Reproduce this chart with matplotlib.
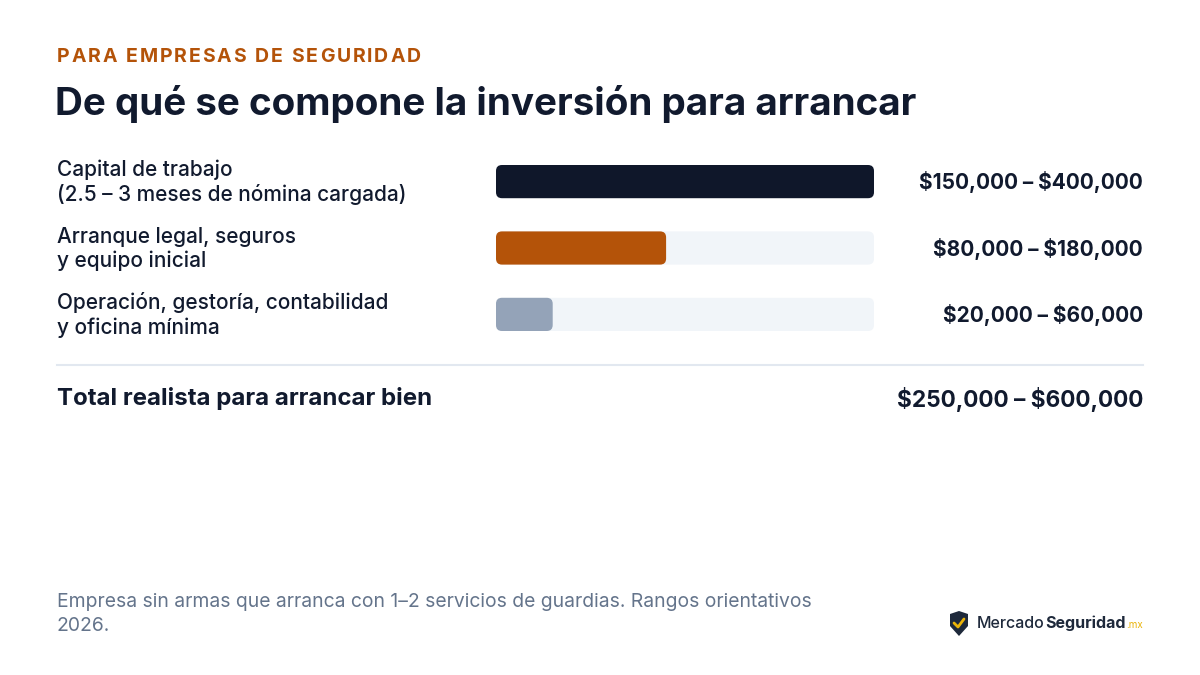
import matplotlib.pyplot as plt
from matplotlib.patches import FancyBboxPatch, Polygon

# data
labels = ["Capital de trabajo\n(2.5 – 3 meses de nómina cargada)",
          "Arranque legal, seguros\ny equipo inicial",
          "Operación, gestoría, contabilidad\ny oficina mínima"]
low = [150000, 80000, 20000]
high = [400000, 180000, 60000]
range_text = ["$150,000 – $400,000", "$80,000 – $180,000", "$20,000 – $60,000"]
bar_colors = ["#0f172a", "#b45309", "#94a3b8"]
total_text = "$250,000 – $600,000"
scale_max = 400000

navy = "#111a2e"
plt.rcParams['font.family'] = ['Inter', 'DejaVu Sans']

W, H = 1200, 675
fig = plt.figure(figsize=(12, 6.75), dpi=100)
fig.patch.set_facecolor("white")
renderer = fig.canvas.get_renderer()

def fx(px):
    return px / W

def fy(py):
    return 1 - py / H

# header, letter-spaced by hand
x = 57
for ch in "PARA EMPRESAS DE SEGURIDAD":
    t = fig.text(fx(x), fy(57), ch, color="#b45309", fontsize=14,
                 fontweight="bold", va="center", ha="left")
    w = t.get_window_extent(renderer=renderer).width
    if ch == " ":
        w = 5
    x += w + 1.9
fig.text(fx(55), fy(104), "De qué se compone la inversión para arrancar", color=navy,
         fontsize=27.8, fontweight="bold", va="center", ha="left")

# bar area
ax = fig.add_axes([fx(496), fy(331), fx(874) - fx(496), (331 - 165) / H])
ax.set_xlim(0, scale_max)
ax.set_ylim(len(labels) - 0.75, -0.25)
ax.axis("off")

# px -> data units for rounded corners
xu = scale_max / (874 - 496)
yu = (len(labels) - 0.5) / (331 - 165)
r = 6 * xu
aspect = yu / xu
bh = 0.5
for i in range(len(labels)):
    track = FancyBboxPatch((0, i - bh / 2), scale_max, bh,
                           boxstyle=f"round,pad=0,rounding_size={r}",
                           mutation_aspect=aspect, fc="#f1f5f9", ec="none")
    ax.add_patch(track)
    bar = FancyBboxPatch((0, i - bh / 2), high[i], bh,
                         boxstyle=f"round,pad=0,rounding_size={r}",
                         mutation_aspect=aspect, fc=bar_colors[i], ec="none")
    ax.add_patch(bar)

row_y = [182, 249, 315]
for i in range(len(labels)):
    fig.text(fx(57), fy(row_y[i]), labels[i], color=navy, fontsize=15,
             fontweight="medium", va="center", ha="left", linespacing=1.25)
    fig.text(fx(1143), fy(row_y[i]), range_text[i], color=navy, fontsize=15,
             fontweight="bold", va="center", ha="right", parse_math=False)

# separator + total
fig.add_artist(plt.Line2D([fx(57), fx(1143)], [fy(365), fy(365)], color="#e2e8f0", lw=1.5))
fig.text(fx(57), fy(399), "Total realista para arrancar bien", color=navy,
         fontsize=17.3, fontweight="bold", va="center", ha="left")
fig.text(fx(1143), fy(399), total_text, color=navy,
         fontsize=16.3, fontweight="bold", va="center", ha="right", parse_math=False)

# footer
fig.text(fx(57), fy(614), "Empresa sin armas que arranca con 1–2 servicios de guardias. Rangos orientativos\n2026.",
         color="#64748b", fontsize=13.9, va="center", ha="left", linespacing=1.45)

# logo
shield = Polygon([(fx(950), fy(614)), (fx(959), fy(611)), (fx(968), fy(614)),
                  (fx(968), fy(626)), (fx(959), fy(636)), (fx(950), fy(626))],
                 closed=True, fc="#1e293b", ec="none", transform=fig.transFigure)
fig.add_artist(shield)
fig.add_artist(plt.Line2D([fx(954), fx(958), fx(964)], [fy(623), fy(627), fy(619)],
                          color="#eab308", lw=2, solid_capstyle="round"))
t1 = fig.text(fx(977), fy(623), "Mercado", color="#1e293b", fontsize=11.5,
              fontweight="medium", va="center", ha="left")
bb = t1.get_window_extent(renderer=renderer)
t2 = fig.text(bb.x1 / W, fy(623), "Seguridad", color="#1e293b", fontsize=11.5,
              fontweight="bold", va="center", ha="left")
bb2 = t2.get_window_extent(renderer=renderer)
fig.text(bb2.x1 / W + 0.001, fy(625), ".mx", color="#eab308", fontsize=7,
         va="center", ha="left")

fig.savefig("out.png", dpi=100)
